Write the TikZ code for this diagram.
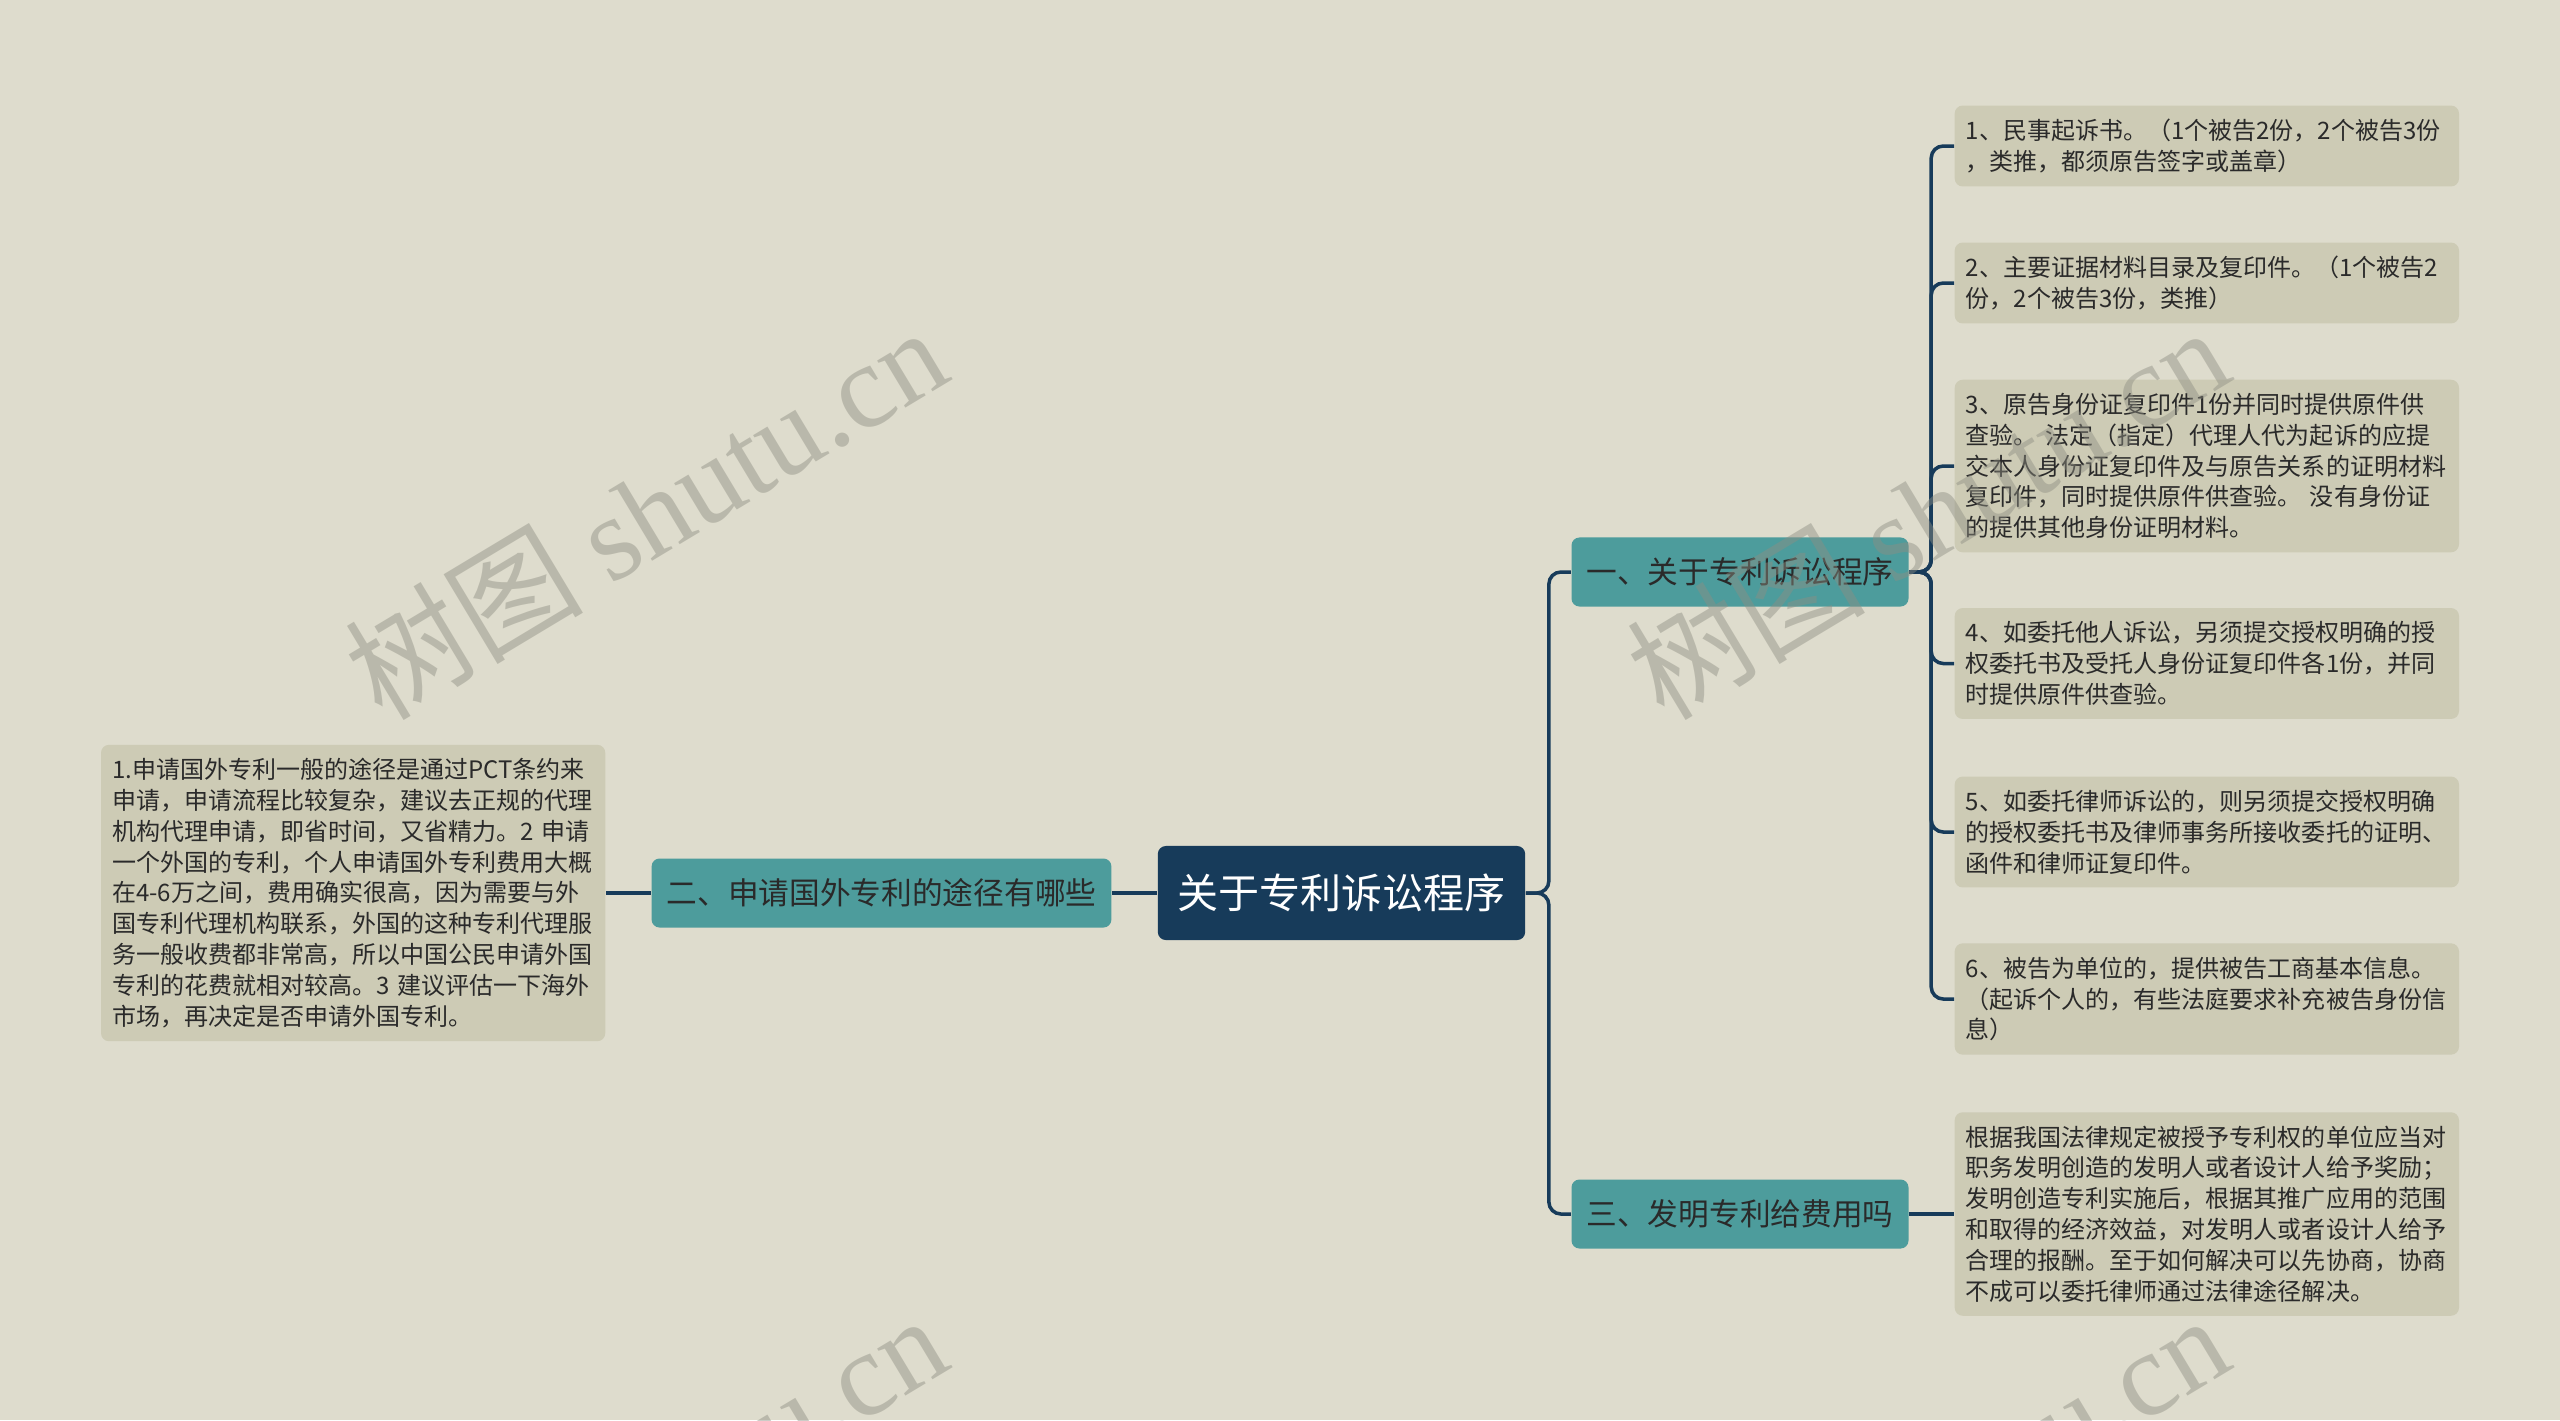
\documentclass[tikz,border=0pt]{standalone}
\usepackage{fontspec}
\setmainfont{Noto Sans CJK SC}
\newfontfamily\wmlatin{Liberation Serif}
\definecolor{paper}{HTML}{DEDCCD}
\definecolor{navy}{HTML}{173B5A}
\definecolor{topicteal}{HTML}{4D9C9C}
\definecolor{leaffill}{HTML}{CDCBB5}
\definecolor{ink}{HTML}{2A2A2A}
\definecolor{wmgray}{HTML}{8E8E82}
\def\leafx{1954}
\def\leafw{4.82cm}
\def\fork{22}
\tikzset{
    rootbox/.style={fill=navy, text=white, rounded corners=0.08cm, inner xsep=0.195cm,
        minimum height=0.94cm, font=\fontsize{11.67pt}{14pt}\selectfont},
    topicbox/.style={fill=topicteal, text=ink, rounded corners=0.08cm, inner xsep=0.15cm,
        minimum height=0.69cm, font=\fontsize{8.73pt}{10.5pt}\selectfont},
    leafbox/.style={fill=leaffill, text=ink, rounded corners=0.08cm, align=left, anchor=west,
        text width=\leafw, inner xsep=0.11cm, inner ysep=0.135cm,
        font=\fontsize{6.83pt}{8.76pt}\selectfont},
    link/.style={draw=navy, line width=1pt, rounded corners=0.12cm},
    wmark/.style={text=wmgray, opacity=0.45, rotate=31, font=\fontsize{34pt}{38pt}\selectfont}
}
\newcommand{\leaf}[3]{
    \node[leafbox] (#1) at (\leafx,#2) {#3};
}
\newcommand{\stamp}[2]{
    \node[wmark] at (#1,#2) {树图~{\wmlatin shutu.cn}};
}
\begin{document}
\begin{tikzpicture}[x=0.01cm, y=-0.01cm]
    \useasboundingbox (0,0) rectangle (2560,1420);
    \fill[paper] (0,0) rectangle (2560,1420);
    % centre and the three topics
    \node[rootbox] (root) at (1341.5,893) {关于专利诉讼程序};
    \node[topicbox] (b1) at (1740,572) {一、关于专利诉讼程序};
    \node[topicbox] (b2) at (881.5,893) {二、申请国外专利的途径有哪些};
    \node[topicbox] (b3) at (1740,1214) {三、发明专利给费用吗};
    % leaves
    \leaf{l1}{146}{1、民事起诉书。（1个被告2份，2个被告3份\\，类推，都须原告签字或盖章）}
    \leaf{l2}{283}{2、主要证据材料目录及复印件。（1个被告2\\份，2个被告3份，类推）}
    \leaf{l3}{466}{3、原告身份证复印件1份并同时提供原件供\\查验。~法定（指定）代理人代为起诉的应提\\交本人身份证复印件及与原告关系的证明材料\\复印件，同时提供原件供查验。~没有身份证\\的提供其他身份证明材料。}
    \leaf{l4}{663.5}{4、如委托他人诉讼，另须提交授权明确的授\\权委托书及受托人身份证复印件各1份，并同\\时提供原件供查验。}
    \leaf{l5}{832}{5、如委托律师诉讼的，则另须提交授权明确\\的授权委托书及律师事务所接收委托的证明、\\函件和律师证复印件。}
    \leaf{l6}{999}{6、被告为单位的，提供被告工商基本信息。\\（起诉个人的，有些法庭要求补充被告身份信\\息）}
    \leaf{l7}{1214}{根据我国法律规定被授予专利权的单位应当对\\职务发明创造的发明人或者设计人给予奖励；\\发明创造专利实施后，根据其推广应用的范围\\和取得的经济效益，对发明人或者设计人给予\\合理的报酬。至于如何解决可以先协商，协商\\不成可以委托律师通过法律途径解决。}
    \node[leafbox, anchor=east] (l0) at (606,893) {1.申请国外专利一般的途径是通过PCT条约来\\申请，申请流程比较复杂，建议去正规的代理\\机构代理申请，即省时间，又省精力。2~申请\\一个外国的专利，个人申请国外专利费用大概\\在4-6万之间，费用确实很高，因为需要与外\\国专利代理机构联系，外国的这种专利代理服\\务一般收费都非常高，所以中国公民申请外国\\专利的花费就相对较高。3~建议评估一下海外\\市场，再决定是否申请外国专利。};
    % connectors
    \draw[link] (root.east) -- ++(23,0) |- (b1.west);
    \draw[link] (root.east) -- ++(23,0) |- (b3.west);
    \draw[link] (root.west) -- (b2.east);
    \draw[link] (b2.west) -- (l0.east);
    \foreach \i in {l1,l2,l3,l4,l5,l6}
        \draw[link] (b1.east) -- ++(\fork,0) |- (\i.west);
    \draw[link] (b3.east) -- (l7.west);
    % watermarks
    \stamp{645}{512}
    \stamp{1927}{512}
    \stamp{645}{1500}
    \stamp{1927}{1500}
\end{tikzpicture}
\end{document}
